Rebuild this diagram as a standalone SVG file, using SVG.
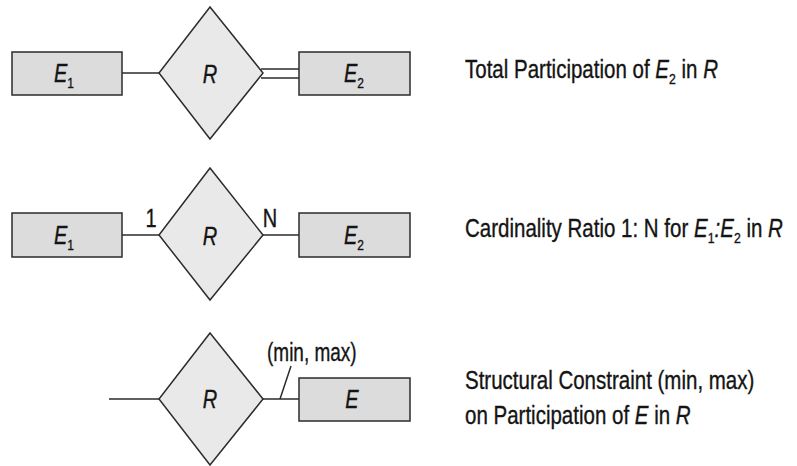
<svg xmlns="http://www.w3.org/2000/svg" width="797" height="466" viewBox="0 0 797 466">
  <style>
    .ent { fill: #dcdcdc; stroke: #2b2b2b; stroke-width: 1.5; }
    .rel { fill: #e9e9e9; stroke: #2b2b2b; stroke-width: 1.5; }
    .edge { stroke: #2b2b2b; stroke-width: 1.5; fill: none; }
    text { font-family: "Liberation Sans", Arial, sans-serif; fill: #141414; stroke: #141414; stroke-width: 0.35; }
    .lbl { font-size: 25px; }
    .cap { font-size: 25px; }
    .it { font-style: italic; }
    .sub { font-size: 15px; }
  </style>

  <rect width="797" height="466" fill="#ffffff"/>

  <!-- connectors -->
  <g id="connectors">
    <!-- row 1: E1 — R, R == E2 (total participation) -->
    <line class="edge" x1="122" y1="73" x2="159" y2="73"/>
    <line class="edge" x1="261" y1="69" x2="299" y2="69"/>
    <line class="edge" x1="261" y1="78" x2="299" y2="78"/>
    <!-- row 2: E1 —1— R —N— E2 -->
    <line class="edge" x1="122" y1="235" x2="159" y2="235"/>
    <line class="edge" x1="263" y1="235" x2="299" y2="235"/>
    <!-- row 3: — R —(min,max)— E -->
    <line class="edge" x1="109" y1="399" x2="159" y2="399"/>
    <line class="edge" x1="263" y1="399" x2="299" y2="399"/>
    <line class="edge" x1="280" y1="399" x2="291" y2="366"/>
  </g>

  <!-- row 1 -->
  <g id="e1-total">
    <rect class="ent" x="12" y="52" width="110" height="43"/>
    <text class="lbl" transform="translate(54,82) scale(0.8,1)"><tspan class="it">E</tspan><tspan class="sub" dy="6">1</tspan></text>
  </g>
  <g id="r-total">
    <polygon class="rel" points="210,7 263,73 210,139 159,73"/>
    <text class="lbl it" transform="translate(210,83) scale(0.8,1)" text-anchor="middle">R</text>
  </g>
  <g id="e2-total">
    <rect class="ent" x="299" y="52" width="111" height="43"/>
    <text class="lbl" transform="translate(344,82) scale(0.8,1)"><tspan class="it">E</tspan><tspan class="sub" dy="6">2</tspan></text>
  </g>
  <g id="caption-total">
    <text class="cap" transform="translate(465,78) scale(0.82,1)">Total Participation of <tspan class="it">E</tspan><tspan class="sub" dy="6">2</tspan><tspan dy="-6"> in </tspan><tspan class="it">R</tspan></text>
  </g>

  <!-- row 2 -->
  <g id="e1-card">
    <rect class="ent" x="12" y="213" width="110" height="44"/>
    <text class="lbl" transform="translate(54,244) scale(0.8,1)"><tspan class="it">E</tspan><tspan class="sub" dy="6">1</tspan></text>
  </g>
  <g id="r-card">
    <polygon class="rel" points="210,168 263,235 210,300 159,235"/>
    <text class="lbl it" transform="translate(210,245) scale(0.8,1)" text-anchor="middle">R</text>
    <text class="lbl" transform="translate(151,227) scale(0.8,1)" text-anchor="middle">1</text>
    <text class="lbl" transform="translate(270,227) scale(0.8,1)" text-anchor="middle">N</text>
  </g>
  <g id="e2-card">
    <rect class="ent" x="299" y="213" width="111" height="44"/>
    <text class="lbl" transform="translate(344,244) scale(0.8,1)"><tspan class="it">E</tspan><tspan class="sub" dy="6">2</tspan></text>
  </g>
  <g id="caption-card">
    <text class="cap" transform="translate(465,237) scale(0.82,1)">Cardinality Ratio 1: N for <tspan class="it">E</tspan><tspan class="sub" dy="6">1</tspan><tspan class="it" dy="-6">:E</tspan><tspan class="sub" dy="6">2</tspan><tspan dy="-6"> in </tspan><tspan class="it">R</tspan></text>
  </g>

  <!-- row 3 -->
  <g id="r-struct">
    <polygon class="rel" points="210,333 263,399 210,465 159,399"/>
    <text class="lbl it" transform="translate(210,408) scale(0.8,1)" text-anchor="middle">R</text>
  </g>
  <g id="e-struct">
    <rect class="ent" x="299" y="378" width="111" height="43"/>
    <text class="lbl it" transform="translate(352,408) scale(0.8,1)" text-anchor="middle">E</text>
  </g>
  <g id="minmax-label">
    <text class="lbl" transform="translate(267,361) scale(0.76,1)">(min, max)</text>
  </g>
  <g id="caption-struct">
    <text class="cap" transform="translate(465,389) scale(0.82,1)">Structural Constraint (min, max)</text>
    <text class="cap" transform="translate(465,424) scale(0.82,1)">on Participation of <tspan class="it">E</tspan> in <tspan class="it">R</tspan></text>
  </g>
</svg>
